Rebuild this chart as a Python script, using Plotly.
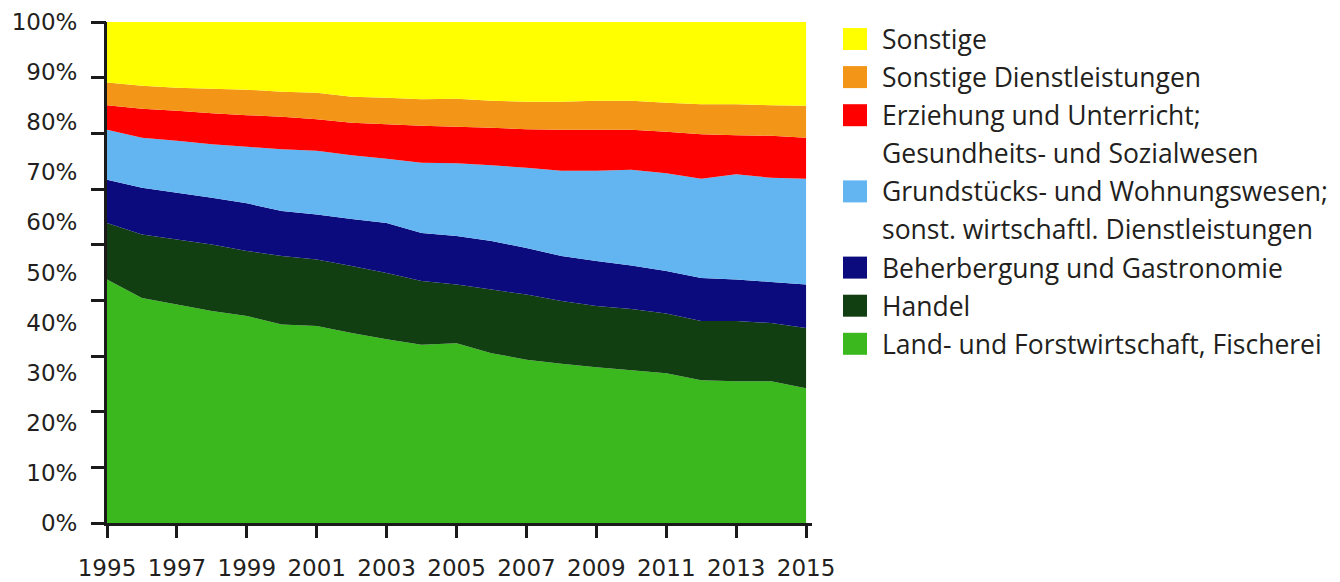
import plotly.graph_objects as go

# shares per sector in percent
years = list(range(1995, 2016))

land = [48.6, 44.9, 43.6, 42.3, 41.3, 39.6, 39.3, 37.9, 36.7, 35.6, 35.9,
        33.9, 32.6, 31.8, 31.1, 30.5, 29.9, 28.5, 28.3, 28.3, 26.9]
handel = [11.3, 12.7, 13.0, 13.3, 13.0, 13.7, 13.3, 13.4, 13.2, 12.7, 11.7,
          12.7, 13.0, 12.5, 12.2, 12.2, 11.9, 11.8, 12.0, 11.6, 12.0]
gastro = [8.6, 9.3, 9.3, 9.3, 9.5, 9.0, 9.0, 9.4, 10.0, 9.6, 9.7,
          9.7, 9.3, 9.0, 9.0, 8.7, 8.5, 8.6, 8.3, 8.2, 8.7]
grund = [10.0, 10.0, 10.4, 10.7, 11.3, 12.3, 12.7, 12.7, 12.8, 14.0, 14.5,
         15.1, 16.0, 17.0, 18.0, 19.1, 19.5, 19.8, 21.0, 20.8, 21.1]
erziehung = [4.9, 5.8, 6.0, 6.2, 6.3, 6.5, 6.3, 6.5, 6.9, 7.4, 7.3,
             7.5, 7.7, 8.2, 8.2, 8.0, 8.3, 8.9, 7.8, 8.4, 8.2]
sonst_dl = [4.5, 4.6, 4.6, 4.9, 5.1, 5.0, 5.3, 5.2, 5.3, 5.3, 5.6,
            5.4, 5.5, 5.6, 5.8, 5.8, 5.8, 6.0, 6.2, 6.1, 6.4]
sonstige = [12.1, 12.7, 13.1, 13.3, 13.5, 13.9, 14.1, 14.9, 15.1, 15.4, 15.3,
            15.7, 15.9, 15.9, 15.7, 15.7, 16.1, 16.4, 16.4, 16.6, 16.7]

# bottom to top
series = [
    ("Land- und Forstwirtschaft, Fischerei", land, "#3ab81e"),
    ("Handel", handel, "#123f12"),
    ("Beherbergung und Gastronomie", gastro, "#0b0b7e"),
    ("Grundstücks- und Wohnungswesen;<br>sonst. wirtschaftl. Dienstleistungen", grund, "#62b5f0"),
    ("Erziehung und Unterricht;<br>Gesundheits- und Sozialwesen", erziehung, "#ff0000"),
    ("Sonstige Dienstleistungen", sonst_dl, "#f39517"),
    ("Sonstige", sonstige, "#ffff00"),
]

y_labels = [f"{v}%" for v in range(0, 101, 10)]
x_ticks = years[::2]

# the page body has an 8px margin, so the figure is a bit smaller than the window
OFF = 8
W, H = 1340 - OFF, 582 - OFF
# plot area edges in window pixels
L, R, T, B = 107, 812, 22, 523
TEXT = "#231f20"
AXIS = "#1a1a1a"


def paper_x(px):
    return (px - L) / (R - L)


def paper_y(py):
    return (B - py) / (B - T)


fig = go.Figure()
for name, vals, color in series:
    fig.add_trace(go.Scatter(
        x=years, y=vals, name=name.replace("<br>", " "),
        stackgroup="one", mode="none", fillcolor=color,
        line=dict(width=0), showlegend=False,
    ))

# invisible trace so the tick-only axis is drawn
fig.add_trace(go.Scatter(x=[years[0]], y=[0], yaxis="y2", mode="none",
                         showlegend=False, hoverinfo="skip"))

# legend drawn by hand, top entry first
rows = []
for name, vals, color in reversed(series):
    lines = name.split("<br>")
    rows.append((lines[0], color))
    for extra in lines[1:]:
        rows.append((extra, None))

row0, row_step = 39, 38.1
for i, (txt, color) in enumerate(rows):
    cy = row0 + i * row_step
    if color:
        fig.add_shape(type="rect", xref="paper", yref="paper",
                      x0=paper_x(843), x1=paper_x(867),
                      y0=paper_y(cy + 11), y1=paper_y(cy - 11),
                      fillcolor=color, line=dict(width=0))
    fig.add_annotation(text=txt, xref="paper", yref="paper",
                       x=paper_x(880), y=paper_y(cy), xanchor="left",
                       yanchor="middle", showarrow=False,
                       font=dict(family="Open Sans", size=26.5, color=TEXT))

tick_font = dict(family="DejaVu Sans", size=23, color=TEXT)

fig.update_layout(
    width=W, height=H,
    margin=dict(l=L - OFF, r=W - (R - OFF), t=T - OFF, b=H - (B - OFF)),
    paper_bgcolor="white", plot_bgcolor="white",
    xaxis=dict(
        range=[1995, 2015.17], tickvals=x_ticks, ticktext=[str(y) for y in x_ticks],
        ticks="outside", ticklen=12, tickwidth=3, tickcolor=AXIS,
        showline=True, linewidth=3, linecolor=AXIS,
        showgrid=False, zeroline=False, tickfont=tick_font,
        ticklabelstandoff=10, automargin=False,
    ),
    yaxis=dict(
        range=[0, 100], tickvals=list(range(0, 101, 10)), ticktext=y_labels,
        ticks="outside", ticklen=22, tickcolor="rgba(0,0,0,0)",
        showline=True, linewidth=3, linecolor=AXIS,
        showgrid=False, zeroline=False, tickfont=tick_font, automargin=False,
    ),
    yaxis2=dict(
        overlaying="y", side="left", range=[0, 100],
        tickvals=[100 * k / 9 for k in range(10)],
        ticks="outside", ticklen=15, tickwidth=3, tickcolor=AXIS,
        showticklabels=False, showgrid=False, zeroline=False, showline=False,
        automargin=False,
    ),
)

fig.write_html("out.html")
